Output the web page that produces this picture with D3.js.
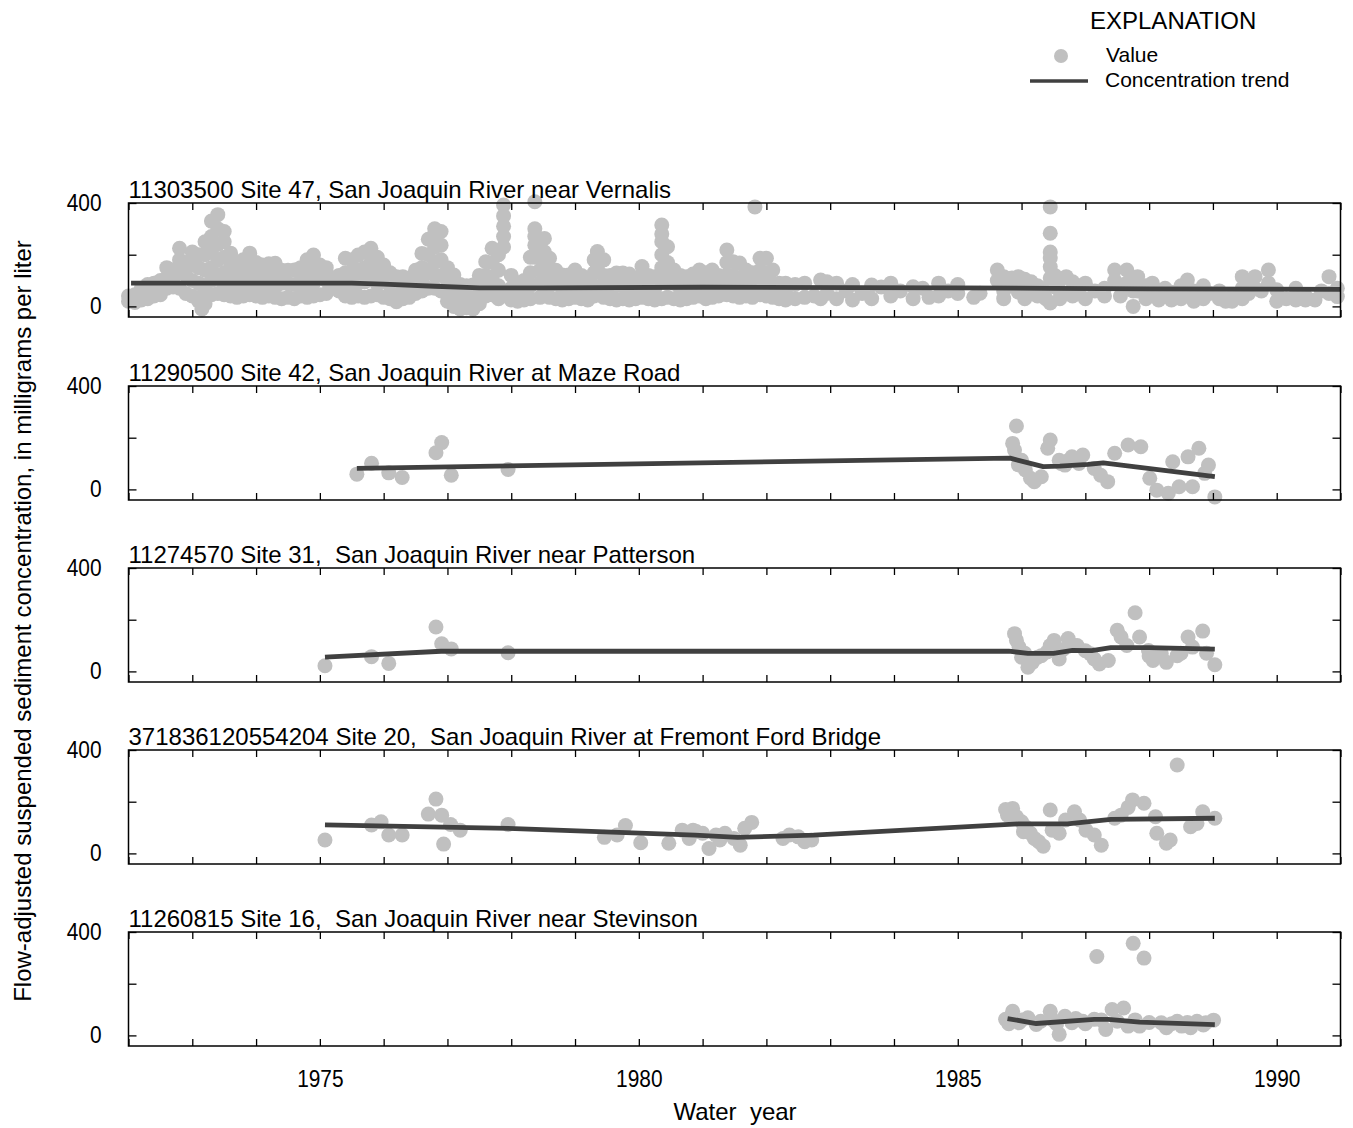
<!DOCTYPE html>
<html>
<head>
<meta charset="utf-8">
<script src="https://cdn.jsdelivr.net/npm/d3@7"></script>
<style>
  body { margin: 0; background: #fff; }
  text { font-family: "Liberation Sans", Arial, Helvetica, sans-serif; fill: #000; }
</style>
</head>
<body>
<svg id="chart" width="1353" height="1128"></svg>
<script>
// ---------------- DATA ----------------
const siteTitles = [
  "11303500 Site 47, San Joaquin River near Vernalis",
  "11290500 Site 42, San Joaquin River at Maze Road",
  "11274570 Site 31,  San Joaquin River near Patterson",
  "371836120554204 Site 20,  San Joaquin River at Fremont Ford Bridge",
  "11260815 Site 16,  San Joaquin River near Stevinson"
];
const xTickLabels = [1975, 1980, 1985, 1990];
const yTickLabels = [0, 400];
const yTickValues = [0, 200, 400];

// Vernalis: each row = [water year, observed values at that time...]
const vernalisRows = [
  [1972.0, 40, 20], [1972.1, 15, 45], [1972.2, 25, 70], [1972.3, 30, 85], [1972.4, 40, 90, 60],
  [1972.5, 45, 100], [1972.6, 70, 150, 110], [1972.7, 75, 140, 110], [1972.8, 70, 225, 180, 130],
  [1972.9, 50, 170, 120], [1973.0, 40, 210, 160, 100], [1973.1, 20, 200, 150, 90], [1973.15, -10, 40],
  [1973.2, 10, 250, 200, 140, 80], [1973.3, 45, 330, 270, 210, 150, 100], [1973.4, 50, 355, 300, 240, 180, 120],
  [1973.5, 45, 290, 250, 190, 130, 80], [1973.6, 40, 206, 150, 100], [1973.7, 35, 170, 120, 75],
  [1973.8, 40, 180, 130, 80], [1973.9, 45, 206, 150, 100], [1974.0, 40, 170, 120, 80], [1974.1, 35, 160, 110, 70],
  [1974.2, 40, 165, 115, 70], [1974.3, 35, 167, 120, 75], [1974.4, 30, 140, 90], [1974.5, 35, 140, 90],
  [1974.6, 30, 141, 85], [1974.7, 40, 150, 95], [1974.8, 35, 180, 130, 80], [1974.9, 40, 199, 140, 90],
  [1975.0, 45, 160, 110], [1975.1, 50, 150, 100], [1975.2, 70, 110], [1975.3, 60, 120],
  [1975.4, 40, 186, 130, 85], [1975.5, 35, 180, 130, 80], [1975.6, 40, 199, 140, 90], [1975.7, 35, 210, 150, 95],
  [1975.8, 40, 225, 170, 110], [1975.9, 45, 190, 130, 85], [1976.0, 35, 160, 110], [1976.1, 30, 130, 80],
  [1976.2, 18, 115, 65], [1976.3, 30, 115, 70], [1976.4, 35, 110, 70], [1976.5, 50, 140, 95],
  [1976.6, 60, 205, 150, 105], [1976.7, 70, 260, 200, 140], [1976.8, 70, 300, 280, 230, 170, 120],
  [1976.9, 60, 290, 237, 180, 120], [1977.0, 20, 150, 100, 60], [1977.1, 0, 121, 80, 40], [1977.2, -10, 85, 40],
  [1977.3, -5, 80, 35], [1977.4, -10, 83, 40], [1977.5, 10, 120, 60], [1977.6, 40, 173, 120, 80],
  [1977.7, 45, 225, 170, 110], [1977.8, 30, 200, 140, 80], [1977.88, 50, 392, 350, 310, 270, 230],
  [1978.0, 25, 120, 70], [1978.1, 20, 90, 50], [1978.2, 25, 100, 60], [1978.3, 30, 190, 130, 80],
  [1978.37, 405, 300, 270, 237, 190], [1978.45, 35, 200, 140, 90], [1978.52, 40, 263, 210, 160, 110],
  [1978.6, 35, 186, 130, 80], [1978.7, 30, 140, 90], [1978.8, 25, 121, 70], [1978.9, 30, 121, 75],
  [1979.0, 35, 141, 90], [1979.1, 30, 120, 75], [1979.2, 25, 100, 60], [1979.3, 40, 180, 130, 80],
  [1979.35, 212, 150], [1979.45, 35, 180, 120, 75], [1979.55, 30, 120, 75], [1979.65, 25, 129, 80],
  [1979.75, 30, 129, 80], [1979.85, 25, 125, 75], [1979.95, 30, 110, 70], [1980.05, 35, 154, 110, 70],
  [1980.15, 30, 120, 75], [1980.25, 25, 115, 70], [1980.36, 30, 315, 280, 250, 200, 150, 100],
  [1980.45, 35, 231, 170, 110], [1980.55, 30, 141, 90], [1980.65, 25, 120, 70], [1980.75, 30, 115, 70],
  [1980.85, 35, 125, 80], [1980.95, 40, 141, 90], [1981.05, 30, 130, 80], [1981.15, 35, 141, 90],
  [1981.25, 40, 120, 80], [1981.38, 45, 218, 170, 120, 80], [1981.48, 40, 173, 120, 80],
  [1981.58, 35, 168, 110, 70], [1981.68, 40, 141, 90], [1981.78, 35, 130, 80], [1981.82, 385],
  [1981.9, 45, 186, 140, 95], [1982.0, 40, 186, 130, 85], [1982.1, 35, 141, 90], [1982.2, 30, 90, 60],
  [1982.3, 25, 90, 55], [1982.45, 30, 85], [1982.6, 35, 90], [1982.75, 40], [1982.85, 30, 102],
  [1982.95, 50, 95], [1983.1, 30, 90], [1983.25, 60], [1983.35, 25, 85], [1983.5, 50], [1983.65, 30, 83],
  [1983.8, 75], [1983.95, 40, 90], [1984.1, 60], [1984.3, 30, 76], [1984.45, 70], [1984.55, 35],
  [1984.7, 90, 40], [1984.85, 60], [1985.0, 85, 50], [1985.25, 35], [1985.35, 51],
  [1985.62, 141, 100], [1985.72, 115, 60, 30], [1985.85, 110, 80], [1985.95, 115, 55],
  [1986.05, 105, 70, 30], [1986.15, 95, 50], [1986.25, 80, 40], [1986.38, 70, 30],
  [1986.45, 385, 283, 210, 187, 153, 110, 13], [1986.52, 120, 75], [1986.6, 100, 60, 30],
  [1986.7, 115, 50], [1986.8, 95, 40], [1986.9, 80, 50], [1987.0, 90, 30], [1987.15, 60],
  [1987.3, 70, 40], [1987.46, 141, 100], [1987.55, 80, 40], [1987.65, 141, 90], [1987.75, 110, 60, 0],
  [1987.82, 115, 60], [1987.95, 80, 30], [1988.05, 90, 50], [1988.15, 60, 25], [1988.25, 70, 40],
  [1988.35, 55, 25], [1988.5, 80, 30], [1988.6, 102, 50], [1988.7, 60, 20], [1988.85, 80, 30],
  [1988.95, 50], [1989.1, 30, 60], [1989.2, 20, 25], [1989.3, 20, 40], [1989.46, 115, 70, 30],
  [1989.56, 100, 50], [1989.66, 115, 70], [1989.76, 60], [1989.87, 141, 90], [1990.0, 64, 20],
  [1990.15, 30], [1990.3, 25, 70], [1990.45, 25, 40], [1990.6, 25], [1990.7, 60], [1990.82, 115, 50],
  [1990.95, 38, 70]
];
const vernalisTrend = [
  [1972.04, 90], [1975.5, 90], [1976.0, 86], [1976.8, 78], [1977.5, 72], [1978.5, 72],
  [1981.0, 74], [1985.0, 72], [1986.5, 70], [1988.0, 68], [1991.0, 66]
];

const mazeRoadPoints = [
  [1975.58, 59], [1975.81, 101], [1976.08, 64], [1976.29, 46], [1976.82, 142], [1976.91, 181],
  [1977.06, 55], [1977.95, 77],
  [1985.86, 178], [1985.89, 152], [1985.92, 245], [1985.95, 95], [1986.0, 113], [1986.06, 75],
  [1986.14, 43], [1986.2, 30], [1986.31, 49], [1986.41, 159], [1986.45, 191], [1986.59, 113],
  [1986.62, 100], [1986.68, 94], [1986.72, 110], [1986.79, 126], [1986.9, 100], [1986.96, 133],
  [1987.14, 81], [1987.24, 55], [1987.35, 30], [1987.46, 140], [1987.67, 172], [1987.87, 165],
  [1988.01, 43], [1988.12, -3], [1988.3, -15], [1988.37, 107], [1988.47, 10], [1988.61, 126],
  [1988.68, 10], [1988.78, 159], [1988.87, 62], [1988.93, 94], [1989.03, -29]
];
const mazeRoadTrend = [
  [1975.58, 81], [1980.96, 103], [1985.82, 121], [1986.34, 88], [1986.6, 90], [1987.04, 97],
  [1987.28, 103], [1989.03, 49]
];

const pattersonPoints = [
  [1975.08, 22], [1975.81, 57], [1976.08, 31], [1976.82, 172], [1976.91, 107], [1977.06, 87], [1977.95, 72],
  [1985.89, 146], [1985.92, 120], [1985.96, 94], [1986.0, 55], [1986.05, 70], [1986.1, 16], [1986.17, 35],
  [1986.25, 55], [1986.31, 61], [1986.4, 75], [1986.45, 100], [1986.51, 120], [1986.59, 48], [1986.65, 85],
  [1986.73, 127], [1986.77, 107], [1986.87, 100], [1987.0, 80], [1987.08, 68], [1987.14, 48], [1987.22, 29],
  [1987.36, 42], [1987.5, 159], [1987.56, 133], [1987.65, 100], [1987.78, 227], [1987.85, 133], [1987.99, 81],
  [1988.0, 60], [1988.06, 42], [1988.19, 68], [1988.27, 35], [1988.44, 61], [1988.5, 70], [1988.61, 133],
  [1988.68, 94], [1988.84, 156], [1988.9, 70], [1989.03, 26]
];
const pattersonTrend = [
  [1975.08, 55], [1976.9, 78], [1977.95, 78], [1985.8, 78], [1986.1, 70], [1986.5, 70], [1986.8, 81],
  [1987.1, 80], [1987.4, 92], [1988.0, 92], [1989.03, 86]
];

const fremontPoints = [
  [1975.08, 52], [1975.81, 110], [1975.96, 122], [1976.08, 71], [1976.29, 71], [1976.7, 152], [1976.82, 210],
  [1976.91, 148], [1976.94, 36], [1977.05, 112], [1977.2, 90], [1977.95, 112],
  [1979.46, 62], [1979.66, 71], [1979.79, 108], [1980.03, 41], [1980.47, 39], [1980.68, 90], [1980.79, 58],
  [1980.85, 90], [1980.9, 85], [1981.0, 78], [1981.1, 19], [1981.21, 71], [1981.27, 52], [1981.35, 78],
  [1981.49, 58], [1981.59, 32], [1981.66, 97], [1981.77, 120], [1982.26, 58], [1982.36, 71], [1982.5, 64],
  [1982.6, 45], [1982.71, 52],
  [1985.75, 170], [1985.78, 148], [1985.86, 174], [1985.92, 142], [1986.0, 122], [1986.03, 84], [1986.06, 103],
  [1986.14, 78], [1986.2, 58], [1986.27, 45], [1986.34, 28], [1986.45, 168], [1986.48, 90], [1986.59, 78],
  [1986.69, 129], [1986.83, 161], [1986.91, 129], [1987.01, 90], [1987.14, 71], [1987.25, 32], [1987.46, 136],
  [1987.56, 148], [1987.67, 178], [1987.74, 207], [1987.92, 194], [1988.1, 142], [1988.12, 78], [1988.27, 39],
  [1988.33, 52], [1988.44, 342], [1988.65, 103], [1988.75, 116], [1988.84, 161], [1989.03, 136]
];
const fremontTrend = [
  [1975.08, 110], [1977.95, 97], [1980.88, 71], [1981.55, 62], [1982.74, 71], [1985.95, 114],
  [1986.72, 114], [1987.4, 132], [1989.03, 136]
];

const stevinsonPoints = [
  [1985.75, 62], [1985.8, 45], [1985.86, 93], [1985.96, 49], [1986.0, 60], [1986.1, 68], [1986.23, 42],
  [1986.3, 55], [1986.45, 93], [1986.48, 62], [1986.55, 45], [1986.59, 4], [1986.68, 74], [1986.79, 49],
  [1986.85, 65], [1986.96, 55], [1987.0, 45], [1987.14, 62], [1987.18, 305], [1987.25, 60], [1987.32, 23],
  [1987.42, 100], [1987.5, 55], [1987.6, 106], [1987.67, 36], [1987.75, 356], [1987.78, 60], [1987.85, 36],
  [1987.92, 299], [1988.0, 50], [1988.19, 49], [1988.27, 30], [1988.35, 45], [1988.44, 55], [1988.51, 36],
  [1988.6, 50], [1988.65, 30], [1988.75, 55], [1988.85, 40], [1988.89, 49], [1989.01, 59]
];
const stevinsonTrend = [
  [1985.78, 65], [1986.23, 46], [1987.14, 62], [1987.36, 62], [1987.85, 51], [1989.03, 42]
];

// ---------------- LAYOUT ----------------
const plotLeft = 128.5, plotRight = 1340.5;
const panelTops = [203, 386, 568, 750, 932];
const panelH = 114;
const pointColor = "#c0c0c0", trendColor = "#404040";
const pointR = 7.5;

const vernalisPoints = vernalisRows.flatMap(r => r.slice(1).map(v => [r[0], v]));
const sites = [
  { title: siteTitles[0], points: vernalisPoints, trend: vernalisTrend },
  { title: siteTitles[1], points: mazeRoadPoints, trend: mazeRoadTrend },
  { title: siteTitles[2], points: pattersonPoints, trend: pattersonTrend },
  { title: siteTitles[3], points: fremontPoints, trend: fremontTrend },
  { title: siteTitles[4], points: stevinsonPoints, trend: stevinsonTrend }
];

const svg = d3.select("#chart");
const x = d3.scaleLinear().domain([1972, 1991]).range([plotLeft, plotRight]);
const yearTicks = d3.range(1972, 1992);

// narrow, tall tick-label glyphs like the reference
function condense(sel, ratio) {
  sel.each(function () {
    const t = d3.select(this);
    if (!t.text()) return;
    const len = this.getComputedTextLength();
    t.attr("textLength", len * ratio).attr("lengthAdjust", "spacingAndGlyphs");
  });
}

sites.forEach((site, i) => {
  const top = panelTops[i], bottom = top + panelH;
  const y = d3.scaleLinear().domain([-41, 400]).range([bottom, top]);
  const g = svg.append("g");

  // points
  g.append("g").selectAll("circle").data(site.points).join("circle")
    .attr("cx", d => x(d[0])).attr("cy", d => y(d[1])).attr("r", pointR)
    .attr("fill", pointColor);

  // trend line
  g.append("path").datum(site.trend)
    .attr("d", d3.line().x(d => x(d[0])).y(d => y(d[1])))
    .attr("fill", "none").attr("stroke", trendColor).attr("stroke-width", 4.8)
    .attr("stroke-linejoin", "round");

  // axes (inward ticks)
  const axB = g.append("g").attr("transform", `translate(0,${bottom})`)
    .call(d3.axisBottom(x).tickValues(yearTicks).tickSize(-7)
      .tickFormat(d => (i === 4 && xTickLabels.includes(d)) ? String(d) : "").tickPadding(24));
  const axT = g.append("g").attr("transform", `translate(0,${top})`)
    .call(d3.axisTop(x).tickValues(yearTicks).tickSize(-7).tickFormat(""));
  const axL = g.append("g").attr("transform", `translate(${plotLeft},0)`)
    .call(d3.axisLeft(y).tickValues(yTickValues).tickSize(-8).tickPadding(27)
      .tickFormat(d => yTickLabels.includes(d) ? String(d) : ""));
  const axR = g.append("g").attr("transform", `translate(${plotRight},0)`)
    .call(d3.axisRight(y).tickValues(yTickValues).tickSize(-8).tickFormat(""));
  [axB, axT, axL, axR].forEach(a => {
    a.select(".domain").remove();
    a.selectAll(".tick line").attr("stroke", "#000").attr("stroke-width", 1.3);
    a.selectAll("text").style("font-size", "24px")
      .style("font-family", '"Liberation Sans", Arial, sans-serif').attr("fill", "#000");
  });
  axL.selectAll("text").attr("dy", "0.3em");
  condense(axB.selectAll("text"), 0.87);
  condense(axL.selectAll("text"), 0.87);

  // frame
  g.append("rect").attr("x", plotLeft).attr("y", top)
    .attr("width", plotRight - plotLeft).attr("height", panelH)
    .attr("fill", "none").attr("stroke", "#000").attr("stroke-width", 1.5);

  // title
  g.append("text").attr("x", plotLeft).attr("y", top - 5.5)
    .style("font-size", "24px").style("white-space", "pre").attr("xml:space", "preserve")
    .text(site.title);
});

// axis titles
svg.append("text")
  .attr("transform", `translate(30.5,621) rotate(-90)`)
  .attr("text-anchor", "middle").style("font-size", "24px")
  .text("Flow-adjusted suspended sediment concentration, in milligrams per liter");
svg.append("text").attr("x", 735).attr("y", 1120).attr("text-anchor", "middle")
  .style("font-size", "24px").style("white-space", "pre").attr("xml:space", "preserve")
  .text("Water  year");

// legend
const lg = svg.append("g");
lg.append("text").attr("x", 1090).attr("y", 28.5).style("font-size", "24px").text("EXPLANATION");
lg.append("circle").attr("cx", 1061).attr("cy", 56).attr("r", 7).attr("fill", pointColor);
lg.append("text").attr("x", 1106).attr("y", 62).style("font-size", "21px").text("Value");
lg.append("line").attr("x1", 1030).attr("x2", 1088).attr("y1", 81).attr("y2", 81)
  .attr("stroke", trendColor).attr("stroke-width", 3.3);
lg.append("text").attr("x", 1105).attr("y", 87).style("font-size", "21px").text("Concentration trend");
</script>
</body>
</html>
